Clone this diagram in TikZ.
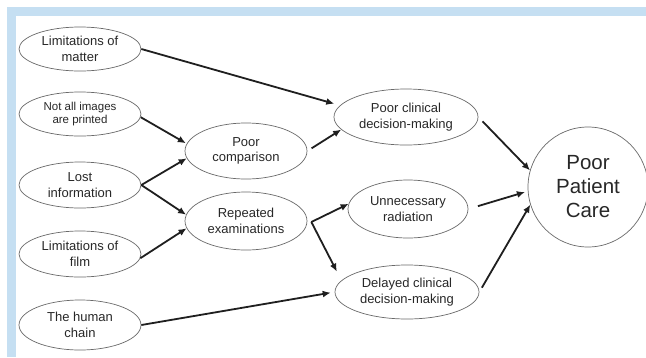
\documentclass[tikz,border=0pt]{standalone}
\usepackage{fontspec}
\setmainfont{Liberation Sans}
\usetikzlibrary{shapes.geometric,arrows.meta,calc}
\definecolor{bandblue}{RGB}{197,223,242}
\definecolor{ringgray}{RGB}{105,105,105}
\definecolor{inkgray}{RGB}{40,40,40}
\begin{document}
\begin{tikzpicture}[x=1pt,y=-1pt,
  oval/.style={ellipse, draw=ringgray, line width=0.7pt, inner sep=0pt, align=center,
    text=inkgray, font=\fontsize{13}{15.5}\selectfont},
  link/.style={draw=black!88, line width=1.8pt, -{Latex[length=8pt,width=7pt]}}]
\useasboundingbox (0,0) rectangle (646,357);
\fill[white] (0,0) rectangle (646,357);
\fill[bandblue] (7,7) rectangle (646,16);
\fill[bandblue] (7,7) rectangle (16,357);

\node[oval, minimum width=122pt, minimum height=44pt] (A1) at (80,49) {Limitations of\\matter};
\node[oval, minimum width=122pt, minimum height=44pt, font=\fontsize{11.5}{13.5}\selectfont] (A2) at (80,114) {Not all images\\are printed};
\node[oval, minimum width=122pt, minimum height=46pt] (A3) at (80,185) {Lost\\information};
\node[oval, minimum width=122pt, minimum height=46pt] (A4) at (80,254) {Limitations of\\film};
\node[oval, minimum width=122pt, minimum height=50pt] (A5) at (80,325) {The human\\chain};

\node[oval, minimum width=122pt, minimum height=56pt] (B1) at (246,151) {Poor\\comparison};
\node[oval, minimum width=122pt, minimum height=58pt] (B2) at (246,221) {Repeated\\examinations};

\node[oval, minimum width=144pt, minimum height=56pt] (C1) at (406,117) {Poor clinical\\decision-making};
\node[oval, minimum width=120pt, minimum height=58pt] (C2) at (408,209) {Unnecessary\\radiation};
\node[oval, minimum width=144pt, minimum height=54pt] (C3) at (407,292) {Delayed clinical\\decision-making};

\node[circle, draw=ringgray, line width=0.7pt, inner sep=0pt, minimum size=120pt, align=center,
  text=inkgray, font=\fontsize{20.5}{24}\selectfont] (D) at (588,187) {Poor\\Patient\\Care};

\draw[link, shorten >=6pt] (A1.east) -- (C1.170);
\draw[link, shorten >=1pt] (A2.-3) -- (B1.173);
\draw[link] (A3.east) -- (B1.187);
\draw[link] (A3.east) -- (B2.174);
\draw[link] (A4.-4) -- (B2.187);
\draw[link, shorten <=5pt] (B1.east) -- (C1.191);
\coordinate (split) at ($(B2.east)+(4,1)$);
\draw[link] (split) -- (C2.175);
\draw[link, shorten >=10pt] (split) -- (C3.170);
\draw[link, shorten >=4pt] (A5.east) -- (C3.west);
\draw[link, shorten <=6pt] (C1.east) -- (D.164);
\draw[link, shorten <=10pt, shorten >=3pt] (C2.east) -- (D.184);
\draw[link, shorten <=5pt] (C3.east) -- (D.197);
\end{tikzpicture}
\end{document}
